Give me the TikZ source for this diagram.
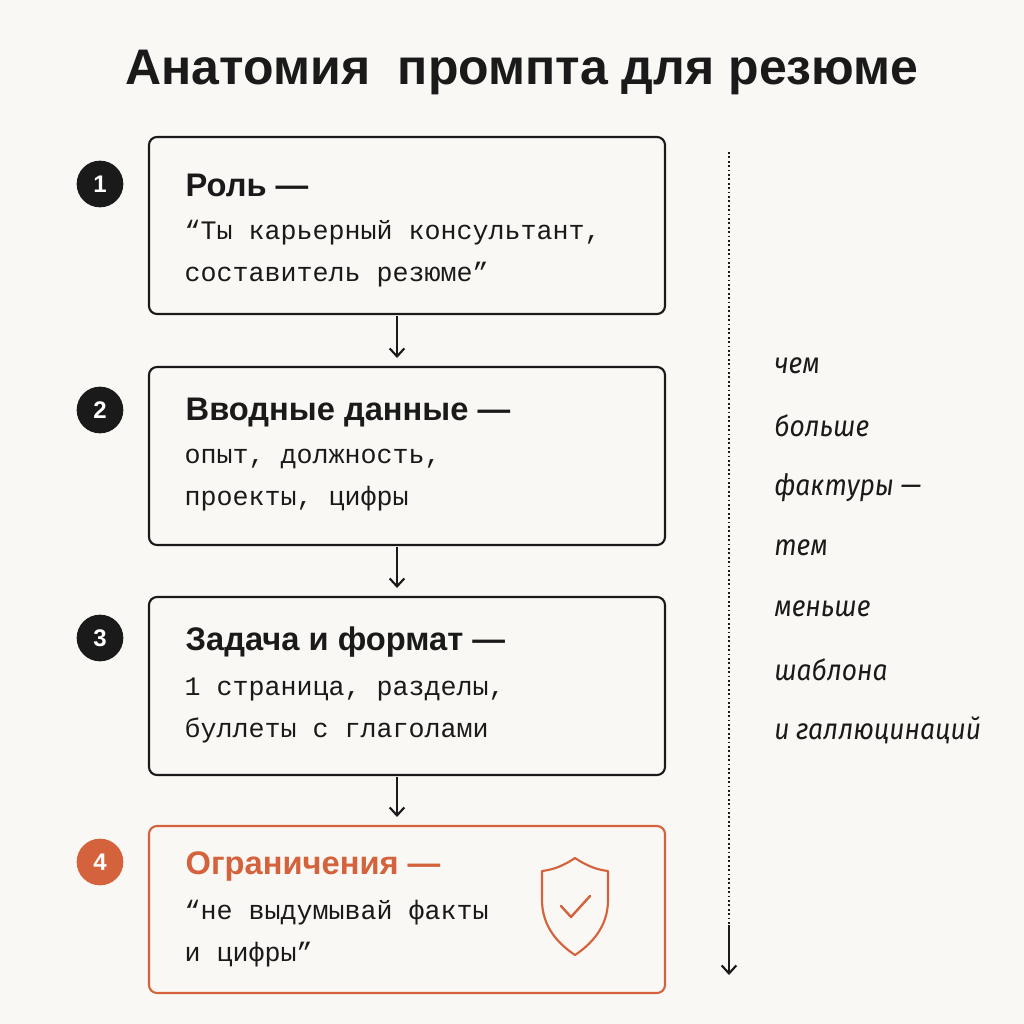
\documentclass[tikz,border=0pt]{standalone}
\usepackage{fontspec}
\setmainfont{Liberation Sans}
\newfontfamily\monof{Liberation Mono}
\newfontfamily\itf{Fira Sans}
\usetikzlibrary{arrows.meta}
\definecolor{bg}{HTML}{FAF8F4}
\definecolor{acc}{HTML}{D4623C}
\definecolor{ink}{HTML}{1A1A1A}
\begin{document}
\begin{tikzpicture}[x=0.75pt,y=-0.75pt,
 box/.style={draw=ink,line width=1.6pt,rounded corners=6pt},
 num/.style={circle,fill=ink,text=white,minimum size=35pt,inner sep=0pt,font=\bfseries\fontsize{18}{18}\selectfont},
 ttl/.style={anchor=west,font=\bfseries\fontsize{24.5}{24.5}\selectfont,text=ink},
 body/.style={anchor=north west,align=left,font=\monof\fontsize{20}{32}\selectfont,text=ink},
 side/.style={anchor=west,xscale=0.9,font=\itf\itshape\fontsize{22}{22}\selectfont,text=ink},
 arr/.style={-{Straight Barb[length=6pt,width=11pt]},line width=1.6pt,draw=ink}]
\fill[bg] (0,0) rectangle (1024,1024);
\node[font=\bfseries\fontsize{37.5}{37.5}\selectfont,text=ink] (title) at (522,72) {Анатомия\ \ промпта для резюме};
\draw[box] (149,137) rectangle (665,314);
\draw[box] (149,367) rectangle (665,545);
\draw[box] (149,597) rectangle (665,775);
\draw[box,draw=acc] (149,826) rectangle (665,993);
\coordinate (a1) at (397,316); \coordinate (a1e) at (397,358);
\coordinate (a2) at (397,547); \coordinate (a2e) at (397,588);
\coordinate (a3) at (397,777); \coordinate (a3e) at (397,817);
\draw[arr] (a1)--(a1e); \draw[arr] (a2)--(a2e); \draw[arr] (a3)--(a3e);
\node[num] (n1) at (100,184) {1};
\node[num] (n2) at (100,410) {2};
\node[num] (n3) at (100,638) {3};
\node[num,fill=acc] (n4) at (100,862) {4};
\node[ttl] (t1) at (181,185) {Роль —};
\node[body] (d1) at (180,215) {“Ты карьерный консультант,\\составитель резюме”};
\node[ttl] (t2) at (181,413) {Вводные данные —};
\node[body] (d2) at (180,444) {опыт, должность,\\проекты, цифры};
\node[ttl] (t3) at (181,642) {Задача и формат —};
\node[body] (d3) at (180,673) {1 страница, разделы,\\буллеты с глаголами};
\node[ttl,text=acc] (t4) at (181,866) {Ограничения —};
\node[body] (d4) at (180,895) {“не выдумывай факты\\ и цифры”};
% shield
\draw[acc,line width=1.6pt,line join=round] (575,858) .. controls (560,868) and (550,870) .. (542,871) -- (542,900) .. controls (542,928) and (560,945) .. (575,955) .. controls (590,945) and (608,928) .. (608,900) -- (608,871) .. controls (600,870) and (590,868) .. (575,858) -- cycle;
\draw[acc,line width=1.8pt,line cap=round,line join=round] (561,906) -- (571,917) -- (590,896);
% side
\coordinate (s0) at (729,152); \coordinate (s1) at (729,975);
\draw[ink,line width=1.3pt,dotted] (s0)--(729,955);
\draw[arr] (729,925)--(s1);
\node[side] at (770,366) {чем};
\node[side] at (770,426) {больше};
\node[side] at (770,488) {фактуры —};
\node[side] at (770,548) {тем};
\node[side] at (770,609) {меньше};
\node[side] at (770,670) {шаблона};
\node[side] at (770,730) {и галлюцинаций};
\end{tikzpicture}
\end{document}
